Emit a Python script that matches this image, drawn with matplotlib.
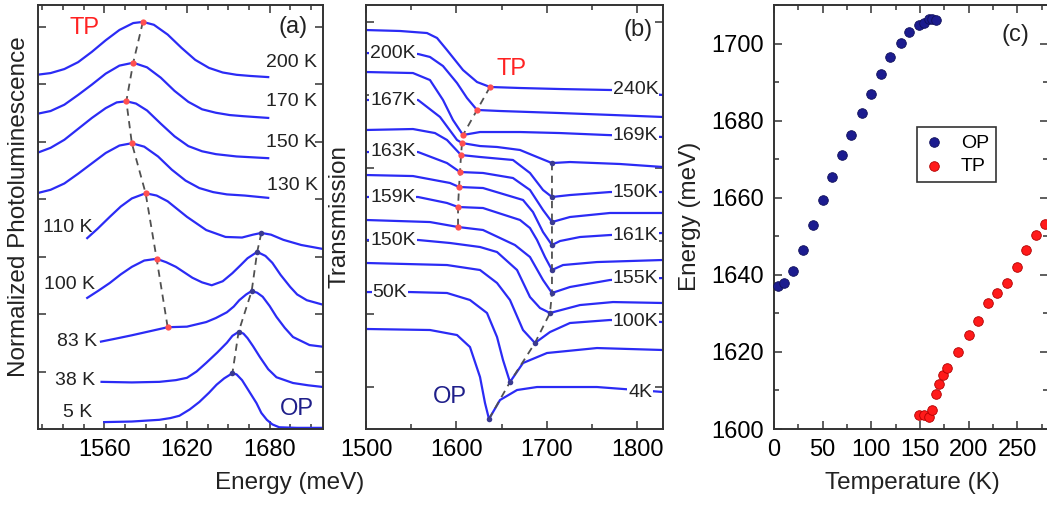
"""
PL spectra, transmission spectra and peak energies vs temperature (three panels).
"""
import matplotlib
matplotlib.use("Agg")
import matplotlib.pyplot as plt
from matplotlib.ticker import MultipleLocator, FixedLocator

plt.rcParams['font.family'] = ['Liberation Sans', 'DejaVu Sans']

# ---------------- panel (a): normalized PL, stacked ----------------
pl_labels = ["200 K", "170 K", "150 K", "130 K", "110 K", "100 K", "83 K", "38 K", "5 K"]
pl_energy = [
    [1511, 1521, 1531, 1541, 1551, 1561, 1571, 1581, 1588, 1596, 1606, 1616, 1626, 1636, 1646, 1656, 1666, 1679],
    [1511, 1521, 1531, 1541, 1551, 1561, 1571, 1581, 1591, 1601, 1611, 1621, 1631, 1641, 1651, 1661, 1679],
    [1511, 1521, 1531, 1541, 1551, 1561, 1569, 1576, 1583, 1591, 1601, 1611, 1621, 1631, 1641, 1656, 1679],
    [1511, 1521, 1531, 1541, 1551, 1561, 1571, 1580, 1589, 1599, 1609, 1619, 1629, 1639, 1649, 1662, 1679],
    [1547.6, 1555, 1564, 1572, 1580, 1590, 1598, 1606, 1620, 1634, 1648, 1660, 1668, 1674, 1681, 1690, 1703, 1719],
    [1547.6, 1556, 1564, 1572, 1580, 1589, 1598, 1605, 1612, 1624, 1631, 1638, 1646, 1653, 1659, 1664, 1671,
     1677, 1682, 1688, 1695, 1700, 1707, 1719],
    [1557.6, 1568, 1580, 1593, 1606, 1620, 1634, 1641, 1649, 1654, 1658, 1663, 1667, 1671, 1675, 1680, 1685,
     1691, 1697, 1709, 1719],
    [1558, 1580, 1600, 1612, 1620, 1627, 1634, 1642, 1649, 1653, 1657.5, 1661, 1664, 1668, 1673, 1679, 1685,
     1697, 1708, 1719],
    [1560, 1580, 1600, 1608, 1614.5, 1622, 1629, 1636, 1641.5, 1647, 1653, 1656, 1660, 1665, 1670.5, 1674,
     1678, 1682, 1687, 1700, 1719],
]
pl_signal = [
    [6.16, 6.19, 6.26, 6.38, 6.56, 6.76, 6.94, 7.06, 7.08, 7.03, 6.86, 6.63, 6.42, 6.28, 6.20, 6.16, 6.14, 6.12],
    [5.48, 5.53, 5.64, 5.81, 5.99, 6.18, 6.32, 6.37, 6.29, 6.11, 5.88, 5.69, 5.56, 5.50, 5.46, 5.44, 5.41],
    [4.80, 4.89, 5.03, 5.22, 5.41, 5.58, 5.68, 5.70, 5.66, 5.54, 5.31, 5.09, 4.92, 4.83, 4.78, 4.74, 4.71],
    [4.10, 4.16, 4.27, 4.44, 4.62, 4.80, 4.93, 4.97, 4.91, 4.74, 4.51, 4.32, 4.19, 4.12, 4.08, 4.06, 4.02],
    [3.32, 3.48, 3.69, 3.87, 4.01, 4.10, 4.06, 3.96, 3.69, 3.46, 3.34, 3.33, 3.38, 3.41, 3.38, 3.29, 3.20, 3.13],
    [2.28, 2.41, 2.54, 2.69, 2.82, 2.93, 2.96, 2.90, 2.82, 2.63, 2.55, 2.50, 2.57, 2.71, 2.85, 2.97, 3.08,
     3.01, 2.89, 2.68, 2.47, 2.34, 2.24, 2.16],
    [1.52, 1.57, 1.63, 1.70, 1.77, 1.78, 1.86, 1.93, 2.03, 2.13, 2.24, 2.34, 2.40, 2.37, 2.30, 2.14, 1.95,
     1.76, 1.60, 1.46, 1.43],
    [0.82, 0.81, 0.82, 0.85, 0.89, 1.00, 1.15, 1.33, 1.50, 1.62, 1.69, 1.66, 1.58, 1.44, 1.25, 1.04, 0.90,
     0.80, 0.76, 0.73],
    [0.12, 0.13, 0.16, 0.19, 0.23, 0.34, 0.47, 0.63, 0.77, 0.88, 0.97, 0.95, 0.85, 0.66, 0.45, 0.28, 0.16,
     0.08, 0.03, 0.02, 0.02],
]
pl_tp_E = [1588, 1581, 1576, 1580, 1590, 1598, 1606]
pl_tp_I = [7.08, 6.37, 5.70, 4.97, 4.10, 2.96, 1.77]
pl_op_E = [1674, 1671, 1667, 1657.5, 1653]
pl_op_I = [3.41, 3.08, 2.40, 1.69, 0.97]

# ---------------- panel (b): transmission, stacked ----------------
tr_labels = ["240K", "200K", "169K", "167K", "150K", "163K", "161K", "159K", "155K", "150K", "100K", "50K", "4K"]
tr_energy = [
    [1500, 1537.6, 1567.4, 1578.5, 1589.5, 1607.2, 1622.7, 1637.0, 1670.2, 1714.4, 1772.9, 1828.2],
    [1500, 1557.5, 1570.7, 1585.1, 1600.6, 1611.6, 1622.7, 1648.1, 1714.4, 1772.9, 1828.2],
    [1500, 1551.9, 1570.7, 1585.1, 1596.1, 1607.2, 1626.0, 1670.2, 1714.4, 1766.3, 1828.2],
    [1500, 1557.5, 1581.8, 1600.6, 1606.1, 1626.0, 1644.8, 1670.2, 1689.0, 1705.5, 1725.4, 1780.7, 1828.2],
    [1500, 1551.9, 1576.2, 1589.5, 1605.0, 1626.0, 1662.4, 1681.2, 1695.6, 1705.5, 1725.4, 1769.6, 1828.2],
    [1500, 1557.5, 1589.5, 1603.9, 1629.3, 1662.4, 1681.2, 1695.6, 1705.5, 1725.4, 1769.6, 1828.2],
    [1500, 1551.9, 1592.8, 1602.8, 1629.3, 1673.5, 1684.5, 1695.6, 1705.5, 1714.4, 1736.5, 1769.6, 1828.2],
    [1500, 1557.5, 1589.5, 1601.7, 1629.3, 1670.2, 1681.2, 1689.0, 1697.8, 1705.5, 1717.7, 1755.2, 1828.2],
    [1500, 1570.7, 1601.7, 1629.3, 1664.6, 1681.2, 1695.6, 1705.5, 1725.4, 1769.6, 1828.2],
    [1500, 1557.5, 1592.8, 1626.0, 1644.8, 1666.9, 1681.2, 1692.3, 1703.3, 1736.5, 1772.9, 1828.2],
    [1500, 1589.5, 1626.0, 1644.8, 1659.1, 1673.5, 1686.7, 1703.3, 1725.4, 1769.6, 1828.2],
    [1500, 1548.6, 1589.5, 1614.9, 1633.7, 1644.8, 1651.4, 1659.1, 1673.5, 1700.0, 1755.2, 1828.2],
    [1500, 1570.7, 1600.6, 1614.9, 1626.0, 1631.5, 1635.9, 1648.1, 1666.9, 1689.0, 1755.2, 1828.2],
]
tr_signal = [
    [4.890, 4.877, 4.849, 4.781, 4.616, 4.342, 4.178, 4.110, 4.096, 4.082, 4.068, 4.000],
    [4.575, 4.562, 4.521, 4.397, 4.164, 3.959, 3.795, 3.781, 3.753, 3.726, 3.699],
    [4.315, 4.301, 4.205, 3.932, 3.658, 3.452, 3.493, 3.493, 3.479, 3.452, 3.425],
    [3.932, 3.932, 3.699, 3.384, 3.342, 3.301, 3.288, 3.247, 3.151, 3.068, 3.082, 3.055, 3.014],
    [3.521, 3.534, 3.479, 3.384, 3.178, 3.151, 3.110, 2.932, 2.699, 2.603, 2.630, 2.671, 2.671],
    [3.219, 3.219, 3.068, 2.945, 2.932, 2.863, 2.699, 2.425, 2.260, 2.329, 2.384, 2.384],
    [2.904, 2.890, 2.795, 2.740, 2.726, 2.562, 2.397, 2.123, 1.945, 2.000, 2.055, 2.082, 2.110],
    [2.603, 2.603, 2.521, 2.466, 2.452, 2.288, 2.178, 2.014, 1.781, 1.603, 1.671, 1.712, 1.740],
    [2.288, 2.260, 2.192, 2.151, 1.945, 1.781, 1.466, 1.288, 1.370, 1.466, 1.493],
    [2.014, 2.014, 1.973, 1.918, 1.849, 1.603, 1.233, 1.082, 1.014, 1.123, 1.164, 1.151],
    [1.699, 1.671, 1.603, 1.425, 1.192, 0.781, 0.603, 0.753, 0.877, 0.918, 0.890],
    [1.301, 1.301, 1.288, 1.192, 1.014, 0.685, 0.370, 0.068, 0.329, 0.466, 0.534, 0.507],
    [0.795, 0.781, 0.712, 0.548, 0.137, -0.219, -0.438, -0.178, -0.041, 0.000, 0.000, -0.068],
]
tr_tp_E = [1637.0, 1622.7, 1607.2, 1606.1, 1605.0, 1603.9, 1602.8, 1601.7, 1601.7]
tr_tp_T = [4.110, 3.795, 3.452, 3.342, 3.178, 2.945, 2.740, 2.466, 2.192]
tr_op_E = [1705.5, 1705.5, 1705.5, 1705.5, 1705.5, 1705.5, 1703.3, 1686.7, 1659.1, 1635.9]
tr_op_T = [3.068, 2.603, 2.260, 1.945, 1.603, 1.288, 1.014, 0.603, 0.068, -0.438]

# ---------------- panel (c): peak energy vs temperature ----------------
op_temp = [4, 10, 20, 30, 40, 50, 60, 70, 79, 90, 100, 110, 119, 130, 139, 149, 154, 159, 162, 166]
op_energy = [1637.0, 1638.0, 1641.0, 1646.5, 1652.8, 1659.5, 1665.4, 1671.2, 1676.2, 1681.9, 1687.0,
             1692.0, 1696.6, 1700.1, 1703.1, 1704.9, 1705.3, 1706.4, 1706.4, 1706.0]
tp_temp = [149, 154, 159, 162, 166, 170, 174, 178, 189, 200, 210, 220, 229, 239, 250, 259, 269, 278]
tp_energy = [1603.6, 1603.6, 1603.2, 1604.9, 1609.1, 1611.8, 1614.0, 1615.7, 1620.0, 1624.4, 1628.1,
             1632.8, 1635.4, 1638.0, 1642.0, 1646.5, 1650.3, 1653.1]

BLUE = '#2b2bf5'
NAVY = '#1f1f8a'
RED = '#ff2222'
DASH = '#505050'
W, H = 1047, 505


def box(l, r, t, b):
    return [l / W, 1 - b / H, (r - l) / W, (b - t) / H]


fig = plt.figure(figsize=(10.47, 5.05), dpi=100)
ax_a = fig.add_axes(box(37.5, 323.3, 5, 429))
ax_b = fig.add_axes(box(366, 663, 5, 429))
ax_c = fig.add_axes(box(774, 1047.5, 5, 429))

for ax in (ax_a, ax_b, ax_c):
    ax.tick_params(which='both', direction='in', top=True, right=True, width=1.1,
                   color='#333333', labelsize=17, pad=7)
    ax.tick_params(which='major', length=6)
    ax.tick_params(which='minor', length=3.5)
    for s in ax.spines.values():
        s.set_linewidth(1.4)
        s.set_color('#333333')

# panel (a)
for e, s in zip(pl_energy, pl_signal):
    ax_a.plot(e, s, color=BLUE, lw=1.6)
ax_a.plot(pl_tp_E, pl_tp_I, color=DASH, lw=1.3, dashes=(4, 3), zorder=3)
ax_a.plot(pl_op_E, pl_op_I, color=DASH, lw=1.3, dashes=(4, 3), zorder=3)
ax_a.plot(pl_tp_E, pl_tp_I, 'o', color='#ff5050', ms=4.5, mew=0, zorder=4)
ax_a.plot(pl_op_E, pl_op_I, 'o', color='#3a3a90', ms=4, mew=0, zorder=4)
ax_a.set_xlim(1511.5, 1719)
ax_a.set_ylim(0, 7.374)
ax_a.xaxis.set_major_locator(FixedLocator([1560, 1620, 1680]))
ax_a.xaxis.set_minor_locator(MultipleLocator(15))
ax_a.yaxis.set_major_locator(FixedLocator([1, 2, 3, 4, 5, 6, 7]))
ax_a.tick_params(labelleft=False)

pl_label_pos = [(1696, 6.38), (1696, 5.69), (1696, 4.98), (1697, 4.23), (1533.8, 3.50),
                (1534.5, 2.52), (1540.4, 1.53), (1538.9, 0.85), (1540.4, 0.28)]
for lab, (x, y) in zip(pl_labels, pl_label_pos):
    ax_a.text(x, y, lab, fontsize=14, ha='center', va='center', color='#222222')
ax_a.text(1545.5, 6.97, "TP", fontsize=17, color=RED, ha='center', va='center')
ax_a.text(1697, 6.99, "(a)", fontsize=17, ha='center', va='center', color='#222222')
ax_a.text(1699.6, 0.35, "OP", fontsize=17, color=NAVY, ha='center', va='center')

# panel (b)
for e, s in zip(tr_energy, tr_signal):
    ax_b.plot(e, s, color=BLUE, lw=1.6)
ax_b.plot(tr_tp_E, tr_tp_T, color=DASH, lw=1.3, dashes=(4, 3), zorder=3)
ax_b.plot(tr_op_E, tr_op_T, color=DASH, lw=1.3, dashes=(4, 3), zorder=3)
ax_b.plot(tr_tp_E, tr_tp_T, 'o', color='#ff5050', ms=4.5, mew=0, zorder=4)
ax_b.plot(tr_op_E, tr_op_T, 'o', color='#3a3a90', ms=4, mew=0, zorder=4)
ax_b.set_xlim(1500, 1828.2)
ax_b.set_ylim(-0.575, 5.233)
ax_b.xaxis.set_major_locator(MultipleLocator(100))
ax_b.xaxis.set_minor_locator(MultipleLocator(50))
ax_b.yaxis.set_major_locator(FixedLocator([0, 1, 2, 3, 4, 5]))
ax_b.tick_params(labelleft=False)

tr_label_pos = [(1798, 4.07), (1529.8, 4.575), (1798, 3.45), (1529.8, 3.93), (1798, 2.67),
                (1529.8, 3.22), (1798, 2.08), (1529.8, 2.60), (1798, 1.49), (1529.8, 2.01),
                (1798, 0.90), (1526.5, 1.30), (1802.8, -0.07)]
for lab, (x, y) in zip(tr_labels, tr_label_pos):
    ax_b.text(x, y, lab, fontsize=14, ha='center', va='center', color='#222222', zorder=5,
              bbox=dict(facecolor='white', edgecolor='none', pad=0.6))
ax_b.text(1661.3, 4.36, "TP", fontsize=17, color=RED, ha='center', va='center')
ax_b.text(1800.6, 4.89, "(b)", fontsize=17, ha='center', va='center', color='#222222')
ax_b.text(1592.3, -0.14, "OP", fontsize=17, color=NAVY, ha='center', va='center')

# panel (c)
ax_c.scatter(op_temp, op_energy, s=48, color='#1c1c8f', edgecolors='#10105a', linewidths=0.6,
             label='OP', zorder=3, clip_on=False)
ax_c.scatter(tp_temp, tp_energy, s=48, color='#ff1a1a', edgecolors='#b00000', linewidths=0.6,
             label='TP', zorder=3)
ax_c.set_xlim(0, 281)
ax_c.set_ylim(1600, 1710)
ax_c.xaxis.set_major_locator(MultipleLocator(50))
ax_c.xaxis.set_minor_locator(MultipleLocator(25))
ax_c.yaxis.set_major_locator(MultipleLocator(20))
ax_c.yaxis.set_minor_locator(MultipleLocator(10))
ax_c.text(248, 1702.1, "(c)", fontsize=17, ha='center', va='center', color='#222222')
leg = ax_c.legend(loc='upper left', bbox_to_anchor=(0.523, 0.712), fontsize=14, frameon=True,
                  fancybox=False, edgecolor='black', handlelength=1.0, handletextpad=0.9,
                  borderpad=0.35, labelspacing=0.3, borderaxespad=0)
leg.get_frame().set_linewidth(1.2)

# axis labels
fig.text(19 / W, 1 - 207 / H, "Normalized Photoluminescence", rotation=90, fontsize=17.5,
         ha='center', va='center', color='#222222')
fig.text(339 / W, 1 - 217 / H, "Transmission", rotation=90, fontsize=17.5,
         ha='center', va='center', color='#222222')
fig.text(690 / W, 1 - 216 / H, "Energy (meV)", rotation=90, fontsize=17.5,
         ha='center', va='center', color='#222222')
fig.text(290 / W, 1 - 483 / H, "Energy (meV)", fontsize=17.5, ha='center', va='center',
         color='#222222')
fig.text(912 / W, 1 - 483 / H, "Temperature (K)", fontsize=17.5, ha='center', va='center',
         color='#222222')

fig.savefig("out.png", dpi=100)
